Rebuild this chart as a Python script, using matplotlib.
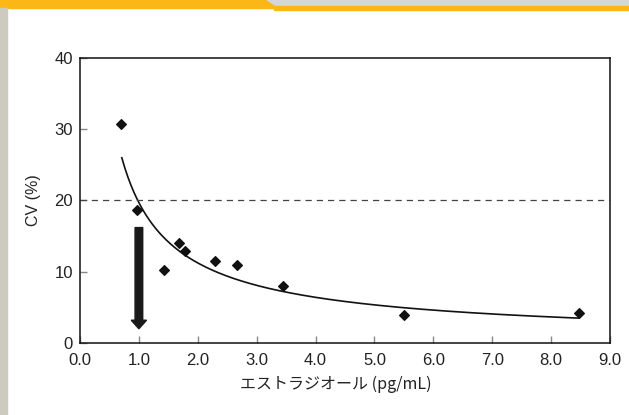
import numpy as np
import matplotlib.pyplot as plt
from matplotlib.patches import Rectangle, Polygon, FancyArrow

plt.rcParams['font.family'] = ['Liberation Sans', 'Noto Sans CJK JP', 'DejaVu Sans']

# --- Data ---
conc = [0.70, 0.97, 1.43, 1.68, 1.78, 2.29, 2.67, 3.45, 5.50, 8.47]
cv = [30.7, 18.6, 10.2, 14.1, 12.9, 11.5, 10.9, 8.0, 3.9, 4.2]
fit_a, fit_b = 19.7, -0.81          # power fit CV = a * x^b
fit_range = (0.71, 8.47)
cv_limit = 20
arrow_x, arrow_top, arrow_bottom = 1.0, 16.2, 2.0
xticks = np.arange(0, 9.1, 1)
yticks = [0, 10, 20, 30, 40]

fig = plt.figure(figsize=(6.29, 4.15), dpi=100)

# page decoration
fig.patches.append(Rectangle((0, 0.980), 0.435, 0.020, transform=fig.transFigure,
                             color='#fbb716', zorder=0))
fig.patches.append(Polygon([[0.425, 1], [0.44, 0.985], [1, 0.985], [1, 1]],
                           closed=True, transform=fig.transFigure,
                           color='#d6d6d8', zorder=0))
fig.patches.append(Rectangle((0.435, 0.976), 0.565, 0.010, transform=fig.transFigure,
                             color='#fbb716', zorder=0))
fig.patches.append(Rectangle((0, 0), 0.011, 0.980, transform=fig.transFigure,
                             color='#cdcac0', zorder=0))

ax = fig.add_axes([80 / 629, 1 - 343 / 415, 530 / 629, 285 / 415])

ax.scatter(conc, cv, marker='D', s=24, color='#111111', zorder=3)

xs = np.linspace(fit_range[0], fit_range[1], 300)
ax.plot(xs, fit_a * xs ** fit_b, color='#111111', lw=1.2)

ax.axhline(cv_limit, color='#444444', lw=0.9, ls=(0, (5, 4)))

ax.add_patch(FancyArrow(arrow_x, arrow_top, 0, arrow_bottom - arrow_top,
                        width=0.13, head_width=0.26, head_length=1.2,
                        length_includes_head=True, color='#1a1a1a', zorder=4))

ax.set_xlim(0, 9)
ax.set_ylim(0, 40)
ax.set_xticks(xticks)
ax.set_xticklabels([f'{v:.1f}' for v in xticks])
ax.set_yticks(yticks)
ax.tick_params(direction='in', length=5, width=1, color='#888888',
               labelsize=12, labelcolor='#222222')
ax.tick_params(axis='x', pad=7)
ax.tick_params(axis='y', pad=5)
for s in ax.spines.values():
    s.set_linewidth(1.1)
    s.set_color('#111111')

ax.set_ylabel('CV (%)', fontsize=11.5, color='#222222', labelpad=10)
ax.set_xlabel('エストラジオール (pg/mL)', fontsize=11.5, color='#222222', labelpad=8,
              family=['Noto Sans CJK JP', 'DejaVu Sans'])
ax.xaxis.set_label_coords(0.483, -0.115)

plt.savefig('out.png', dpi=100)
